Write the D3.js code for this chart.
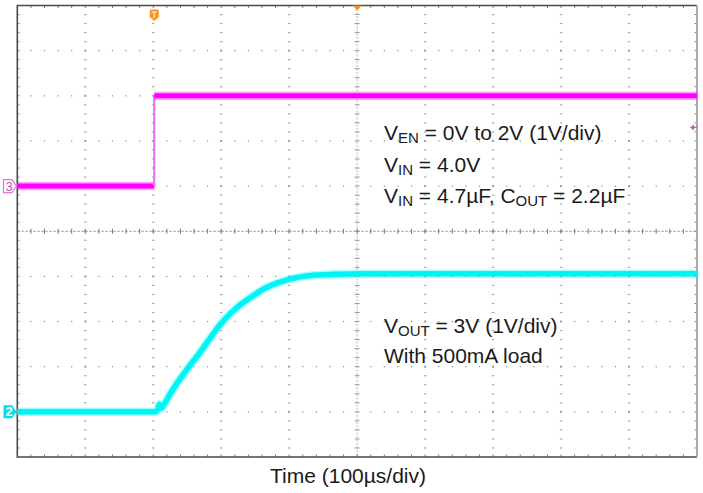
<!DOCTYPE html>
<html>
<head>
<meta charset="utf-8">
<script src="https://cdn.jsdelivr.net/npm/d3@7"></script>
<style>
  html, body { margin: 0; padding: 0; background: #fff; }
  svg { display: block; font-family: "Liberation Sans", Arial, sans-serif; }
</style>
</head>
<body>
<svg id="chart" width="703" height="493"></svg>
<script>
// ---- data ----
// time axis in microseconds (100 µs/div, 10 divisions, trigger at centre)
const timeDomain = [-500, 500];
// Channel 3: EN voltage (V), 1 V/div
const enTime = [-500, -298.5, -298.5, 500];
const enVolt = [0, 0, 2.0, 2.0];
// Channel 2: VOUT (V), 1 V/div
const outTime = [-500, -297, -293, -291, -288, -285, -275, -260, -246, -231, -216, -201, -187, -172, -157, -138, -118, -99, -79, -59, -29, 9, 500];
const outVolt = [0, 0, 0.06, 0.17, 0.08, 0.14, 0.40, 0.74, 1.03, 1.32, 1.64, 1.94, 2.17, 2.37, 2.53, 2.72, 2.85, 2.94, 3.00, 3.03, 3.05, 3.06, 3.06];
// channel ground positions (divisions from top)
const enGroundDiv = 4;
const outGroundDiv = 9;
const trigTime = -298.5;
const trigLevelV = 1.3;
const notesTop = [
  [["V", ""], ["EN", "sub"], [" = 0V to 2V (1V/div)", ""]],
  [["V", ""], ["IN", "sub"], [" = 4.0V", ""]],
  [["V", ""], ["IN", "sub"], [" = 4.7µF, C", ""], ["OUT", "sub"], [" = 2.2µF", ""]]
];
const notesBottom = [
  [["V", ""], ["OUT", "sub"], [" = 3V (1V/div)", ""]],
  [["With 500mA load", ""]]
];
const xLabel = "Time (100µs/div)";

// ---- layout ----
const L = 17.3, R = 697, T = 5.5, B = 457;
const svg = d3.select("#chart");
const x = d3.scaleLinear().domain(timeDomain).range([L, R]);
const yDiv = d3.scaleLinear().domain([0, 10]).range([T, B]);
const xDiv = d3.scaleLinear().domain([0, 10]).range([L, R]);

const grid = svg.append("g");
const gridCol = "#a8a8a8";
// dotted major grid lines
for (let i = 1; i < 10; i++) {
  if (i === 5) continue;
  for (let m = 1; m < 50; m++) {
    if (m % 5 === 0) continue;
    grid.append("rect").attr("x", xDiv(i) - 1.2).attr("y", yDiv(m / 5) - 0.6)
      .attr("width", 2.4).attr("height", 1.2).attr("fill", gridCol);
    grid.append("rect").attr("x", xDiv(m / 5) - 0.6).attr("y", yDiv(i) - 0.6)
      .attr("width", 1.2).attr("height", 1.2).attr("fill", "#8a8a8a");
  }
  for (let j = 1; j < 10; j++) {
    grid.append("rect").attr("x", xDiv(i) - 1).attr("y", yDiv(j) - 1)
      .attr("width", 2).attr("height", 2).attr("fill", "#999");
  }
}
// centre cross lines
grid.append("line").attr("x1", xDiv(5)).attr("x2", xDiv(5)).attr("y1", T).attr("y2", B)
  .attr("stroke", "#b5b5b5").attr("stroke-width", 1).attr("stroke-dasharray", "2,1.5");
grid.append("line").attr("x1", L).attr("x2", R).attr("y1", yDiv(5)).attr("y2", yDiv(5))
  .attr("stroke", "#9a9a9a").attr("stroke-width", 1).attr("stroke-dasharray", "2.5,1.5");
for (let m = 1; m < 50; m++) {
  grid.append("line").attr("x1", xDiv(5) - 2.5).attr("x2", xDiv(5) + 2.5)
    .attr("y1", yDiv(m / 5)).attr("y2", yDiv(m / 5)).attr("stroke", "#999").attr("stroke-width", 1);
  grid.append("line").attr("y1", yDiv(5) - 2.5).attr("y2", yDiv(5) + 2.5)
    .attr("x1", xDiv(m / 5)).attr("x2", xDiv(m / 5)).attr("stroke", "#777").attr("stroke-width", 1);
  // frame ticks
  grid.append("line").attr("x1", xDiv(m / 5)).attr("x2", xDiv(m / 5)).attr("y1", T).attr("y2", T + 2.5)
    .attr("stroke", "#777").attr("stroke-width", 1);
  grid.append("line").attr("x1", xDiv(m / 5)).attr("x2", xDiv(m / 5)).attr("y1", B).attr("y2", B - 2.5)
    .attr("stroke", "#777").attr("stroke-width", 1);
  grid.append("line").attr("x1", L).attr("x2", L + 2.5).attr("y1", yDiv(m / 5)).attr("y2", yDiv(m / 5))
    .attr("stroke", "#999").attr("stroke-width", 1);
  grid.append("line").attr("x1", R).attr("x2", R - 2.5).attr("y1", yDiv(m / 5)).attr("y2", yDiv(m / 5))
    .attr("stroke", "#888").attr("stroke-width", 1);
}
// frame
grid.append("path").attr("d", `M${R},${T}H${L}V${B}H${R}`)
  .attr("fill", "none").attr("stroke", "#4a4a4a").attr("stroke-width", 1.6);
grid.append("line").attr("x1", R).attr("x2", R).attr("y1", T).attr("y2", B)
  .attr("stroke", "#aaa").attr("stroke-width", 2);

// ---- traces ----
const yEn = v => yDiv(enGroundDiv - v);
const yOut = v => yDiv(outGroundDiv - v);

const outPts = outTime.map((t, i) => [t, outVolt[i]]);
const outLine = d3.line().x(d => x(d[0])).y(d => yOut(d[1])).curve(d3.curveMonotoneX);
svg.append("path").attr("d", outLine(outPts)).attr("fill", "none")
  .attr("stroke", "#00ffff").attr("stroke-opacity", 0.35).attr("stroke-width", 8.5).attr("stroke-linejoin", "round");
svg.append("path").attr("d", outLine(outPts)).attr("fill", "none")
  .attr("stroke", "#00f4f4").attr("stroke-width", 5.5).attr("stroke-linejoin", "round");

const enPts = enTime.map((t, i) => [t, enVolt[i]]);
for (let i = 0; i < enPts.length - 1; i++) {
  const a = enPts[i], b = enPts[i + 1];
  const vert = a[0] === b[0];
  const seg = d3.line().x(d => x(d[0])).y(d => yEn(d[1]))([a, b]);
  if (vert) {
    svg.append("path").attr("d", seg).attr("stroke", "#f070f0").attr("stroke-width", 2.2).attr("fill", "none");
  } else {
    svg.append("path").attr("d", seg).attr("stroke", "#ff00ff").attr("stroke-opacity", 0.35)
      .attr("stroke-width", 8.5).attr("fill", "none");
    svg.append("path").attr("d", seg).attr("stroke", "#ff00ff").attr("stroke-width", 5).attr("fill", "none");
  }
}

// ---- markers ----
// channel 3 marker (outlined)
const m3y = yEn(0);
svg.append("path").attr("d", `M3.5,${m3y - 6.5}H12L16.5,${m3y}L12,${m3y + 6.5}H3.5Z`)
  .attr("fill", "#fff").attr("stroke", "#d67ad6").attr("stroke-width", 1.2);
svg.append("text").attr("x", 9).attr("y", m3y + 4.5).attr("text-anchor", "middle")
  .attr("font-size", 13).attr("fill", "#c050c0").text("3");
// channel 2 marker (filled)
const m2y = yOut(0);
svg.append("path").attr("d", `M3.5,${m2y - 6.5}H12L16.5,${m2y}L12,${m2y + 6.5}H3.5Z`).attr("fill", "#00e0e8");
svg.append("text").attr("x", 9).attr("y", m2y + 4.5).attr("text-anchor", "middle")
  .attr("font-size", 13).attr("font-weight", "bold").attr("fill", "#fff").text("2");
// trigger time marker T
const tx = x(trigTime);
svg.append("path").attr("d", `M${tx - 4.5},11Q${tx - 4.5},9.5 ${tx - 3},9.5H${tx + 3}Q${tx + 4.5},9.5 ${tx + 4.5},11V17L${tx},21L${tx - 4.5},17Z`)
  .attr("fill", "#f7941d");
svg.append("path").attr("d", `M${tx - 2.5},12H${tx + 2.5}M${tx},12V18`).attr("stroke", "#ffe0b0").attr("stroke-width", 1.5);
// trigger position marker at top
svg.append("path").attr("d", `M${x(0) - 4.5},${T}H${x(0) + 4.5}L${x(0)},${T + 5}Z`).attr("fill", "#f7941d");
// trigger level marker right
const ty = yEn(trigLevelV);
svg.append("path").attr("d", `M${R - 7},${ty}L${R - 3},${ty - 3}V${ty + 3}Z`).attr("fill", "#e040e0");
svg.append("line").attr("x1", R - 4).attr("x2", R).attr("y1", ty).attr("y2", ty).attr("stroke", "#e040e0").attr("stroke-width", 1.2);

// ---- notes ----
function writeLines(lines, x0, y0, dy) {
  lines.forEach((parts, li) => {
    const t = svg.append("text").attr("x", x0).attr("y", y0 + li * dy)
      .attr("font-size", 21).attr("fill", "#1a1a1a");
    parts.forEach(([s, kind]) => {
      if (kind === "sub") {
        t.append("tspan").attr("font-size", 15).attr("dy", 3).text(s);
      } else {
        const ts = t.append("tspan").text(s);
        if (t.node().childNodes.length > 1) {
          const prev = t.node().childNodes[t.node().childNodes.length - 2];
          if (prev.getAttribute("dy") === "3") ts.attr("dy", -3);
        }
      }
    });
  });
}
writeLines(notesTop, 384, 140, 31.5);
writeLines(notesBottom, 384, 333, 30);

svg.append("text").attr("x", 348).attr("y", 483).attr("text-anchor", "middle")
  .attr("font-size", 21).attr("fill", "#1a1a1a").text(xLabel);
</script>
</body>
</html>
